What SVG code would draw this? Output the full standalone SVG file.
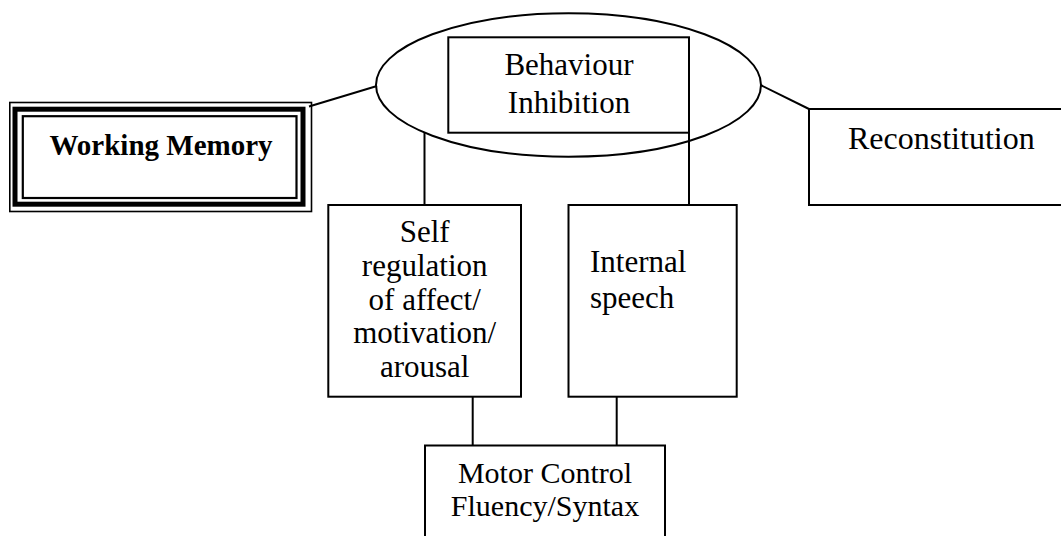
<svg xmlns="http://www.w3.org/2000/svg" width="1061" height="536" viewBox="0 0 1061 536">
<style>
.box{fill:none;stroke:#000;stroke-width:2}
.ln{stroke:#000;stroke-width:2;fill:none}
.t{font-family:"Liberation Serif","Times New Roman",serif;font-size:31px;fill:#000}
.b{font-family:"Liberation Serif","Times New Roman",serif;font-size:29px;font-weight:bold;fill:#000}
</style>
<rect width="1061" height="536" fill="#fff"/>
<g id="connectors">
<line class="ln" x1="309" y1="106.5" x2="377" y2="86"/>
<line class="ln" x1="760.5" y1="85" x2="809" y2="109"/>
<line class="ln" x1="424.5" y1="132" x2="424.5" y2="205"/>
<line class="ln" x1="689" y1="132.7" x2="689" y2="205"/>
<line class="ln" x1="472.7" y1="396.7" x2="472.7" y2="445.5"/>
<line class="ln" x1="616.7" y1="396.7" x2="616.7" y2="445.5"/>
</g>
<g id="working-memory">
<rect x="9.8" y="102.5" width="301.7" height="109" fill="none" stroke="#000" stroke-width="1.6"/>
<rect x="15" y="109.2" width="288" height="95" fill="none" stroke="#000" stroke-width="5"/>
<rect x="22.8" y="116.2" width="273.7" height="81.8" fill="none" stroke="#000" stroke-width="2.2"/>
<text class="b" x="161" y="155" text-anchor="middle">Working Memory</text>
</g>
<g id="behaviour-inhibition">
<ellipse class="box" cx="568.5" cy="85" rx="192.5" ry="71.7"/>
<rect class="box" x="448.3" y="37.3" width="240.7" height="95.4"/>
<text class="t" x="569" y="75" text-anchor="middle">Behaviour</text>
<text class="t" x="569" y="113.3" text-anchor="middle">Inhibition</text>
</g>
<g id="reconstitution">
<rect class="box" x="809" y="109" width="300" height="96"/>
<text class="t" x="848" y="149.3" style="font-size:32px">Reconstitution</text>
</g>
<g id="self-regulation">
<rect class="box" x="328.3" y="205" width="192.7" height="191.7"/>
<text class="t" x="424.7" y="241.7" text-anchor="middle">Self</text>
<text class="t" x="424.7" y="276" text-anchor="middle">regulation</text>
<text class="t" x="424.7" y="309.5" text-anchor="middle">of affect/</text>
<text class="t" x="424.7" y="343.3" text-anchor="middle">motivation/</text>
<text class="t" x="424.7" y="376.7" text-anchor="middle">arousal</text>
</g>
<g id="internal-speech">
<rect class="box" x="568.5" y="205" width="168.2" height="191.7"/>
<text class="t" x="590" y="271.7">Internal</text>
<text class="t" x="590" y="308.3">speech</text>
</g>
<g id="motor-control">
<rect class="box" x="425" y="445.5" width="240" height="120"/>
<text class="t" x="545" y="483.3" text-anchor="middle" style="font-size:30px">Motor Control</text>
<text class="t" x="545" y="516" text-anchor="middle" style="font-size:30px">Fluency/Syntax</text>
</g>
</svg>
